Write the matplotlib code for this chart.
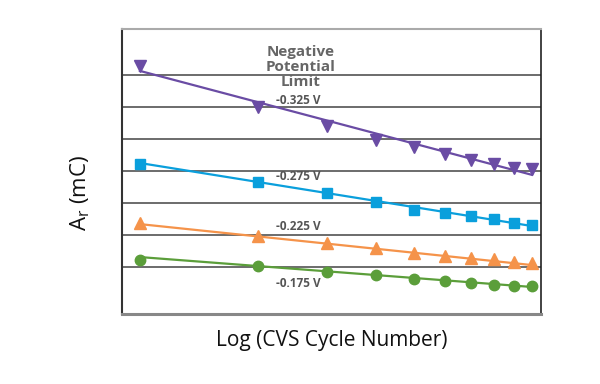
import matplotlib
matplotlib.use("Agg")
import matplotlib.pyplot as plt
from matplotlib.transforms import blended_transform_factory

plt.rcParams['font.family'] = ['Open Sans', 'DejaVu Sans']

cycles = [1, 2, 3, 4, 5, 6, 7, 8, 9, 10]

# charge values (arbitrary units, one gridline per unit)
ar_325 = [7.28, 6.00, 5.41, 4.97, 4.75, 4.53, 4.34, 4.22, 4.09, 4.06]
ar_275 = [4.22, 3.66, 3.31, 3.03, 2.78, 2.69, 2.59, 2.50, 2.38, 2.31]
ar_225 = [2.38, 1.97, 1.75, 1.59, 1.44, 1.34, 1.28, 1.25, 1.16, 1.13]
ar_175 = [1.22, 1.03, 0.84, 0.75, 0.63, 0.56, 0.50, 0.44, 0.41, 0.41]

# trend lines: value at cycle 1 and cycle 10
fit_x = [1, 10]
fit_325 = [7.13, 3.88]
fit_275 = [4.25, 2.28]
fit_225 = [2.34, 1.06]
fit_175 = [1.31, 0.375]

labels = ['-0.325 V', '-0.275 V', '-0.225 V', '-0.175 V']
label_y = [6.2, 3.84, 2.28, 0.47]

fig = plt.figure(figsize=(6, 3.84), dpi=100)
ax = fig.add_axes([0.2033, 0.1823, 0.6984, 0.7422])

series = [
    (ar_325, fit_325, '#6a4ca4', 'v', 8),
    (ar_275, fit_275, '#0a9fdc', 's', 7.5),
    (ar_225, fit_225, '#f5934a', '^', 8),
    (ar_175, fit_175, '#5b9e3a', 'o', 7.5),
]
for vals, fit, col, mk, ms in series:
    ax.plot(fit_x, fit, color=col, lw=1.6, zorder=3)
    ax.plot(cycles, vals, ls='none', marker=mk, ms=ms, color=col, zorder=4)

tr = blended_transform_factory(ax.transAxes, ax.transData)
for lab, yy in zip(labels, label_y):
    ax.text(0.42, yy, lab, transform=tr, ha='center', va='center', fontsize=8.5,
            color='#555555', fontweight='bold', zorder=5)

ax.text(0.427, 7.25, 'Negative\nPotential\nLimit', transform=tr, ha='center',
        va='center', fontsize=11, fontweight='bold', color='#666666',
        linespacing=1.1, zorder=5)

ax.set_xscale('log')
ax.set_xlim(0.9, 10.55)
ax.set_ylim(-0.47, 8.44)
ax.set_yticks([1, 2, 3, 4, 5, 6, 7])
ax.grid(axis='y', color='#444444', lw=1.1)
ax.set_axisbelow(True)
ax.tick_params(left=False, bottom=False, labelleft=False, labelbottom=False,
               which='both')
ax.xaxis.set_minor_locator(matplotlib.ticker.NullLocator())

ax.spines['left'].set_color('#333333')
ax.spines['left'].set_linewidth(1.5)
ax.spines['right'].set_color('#222222')
ax.spines['right'].set_linewidth(1.2)
ax.spines['top'].set_color('#aaaaaa')
ax.spines['top'].set_linewidth(1.5)
ax.spines['bottom'].set_color('#888888')
ax.spines['bottom'].set_linewidth(2.2)

fig.text(0.133, 0.497, 'A$_\\mathregular{r}$ (mC)', rotation=90, ha='center',
         va='center', fontsize=16, color='#111111')
fig.text(0.553, 0.113, 'Log (CVS Cycle Number)', ha='center', va='center',
         fontsize=15, color='#111111')

fig.savefig('out.png', dpi=100)
